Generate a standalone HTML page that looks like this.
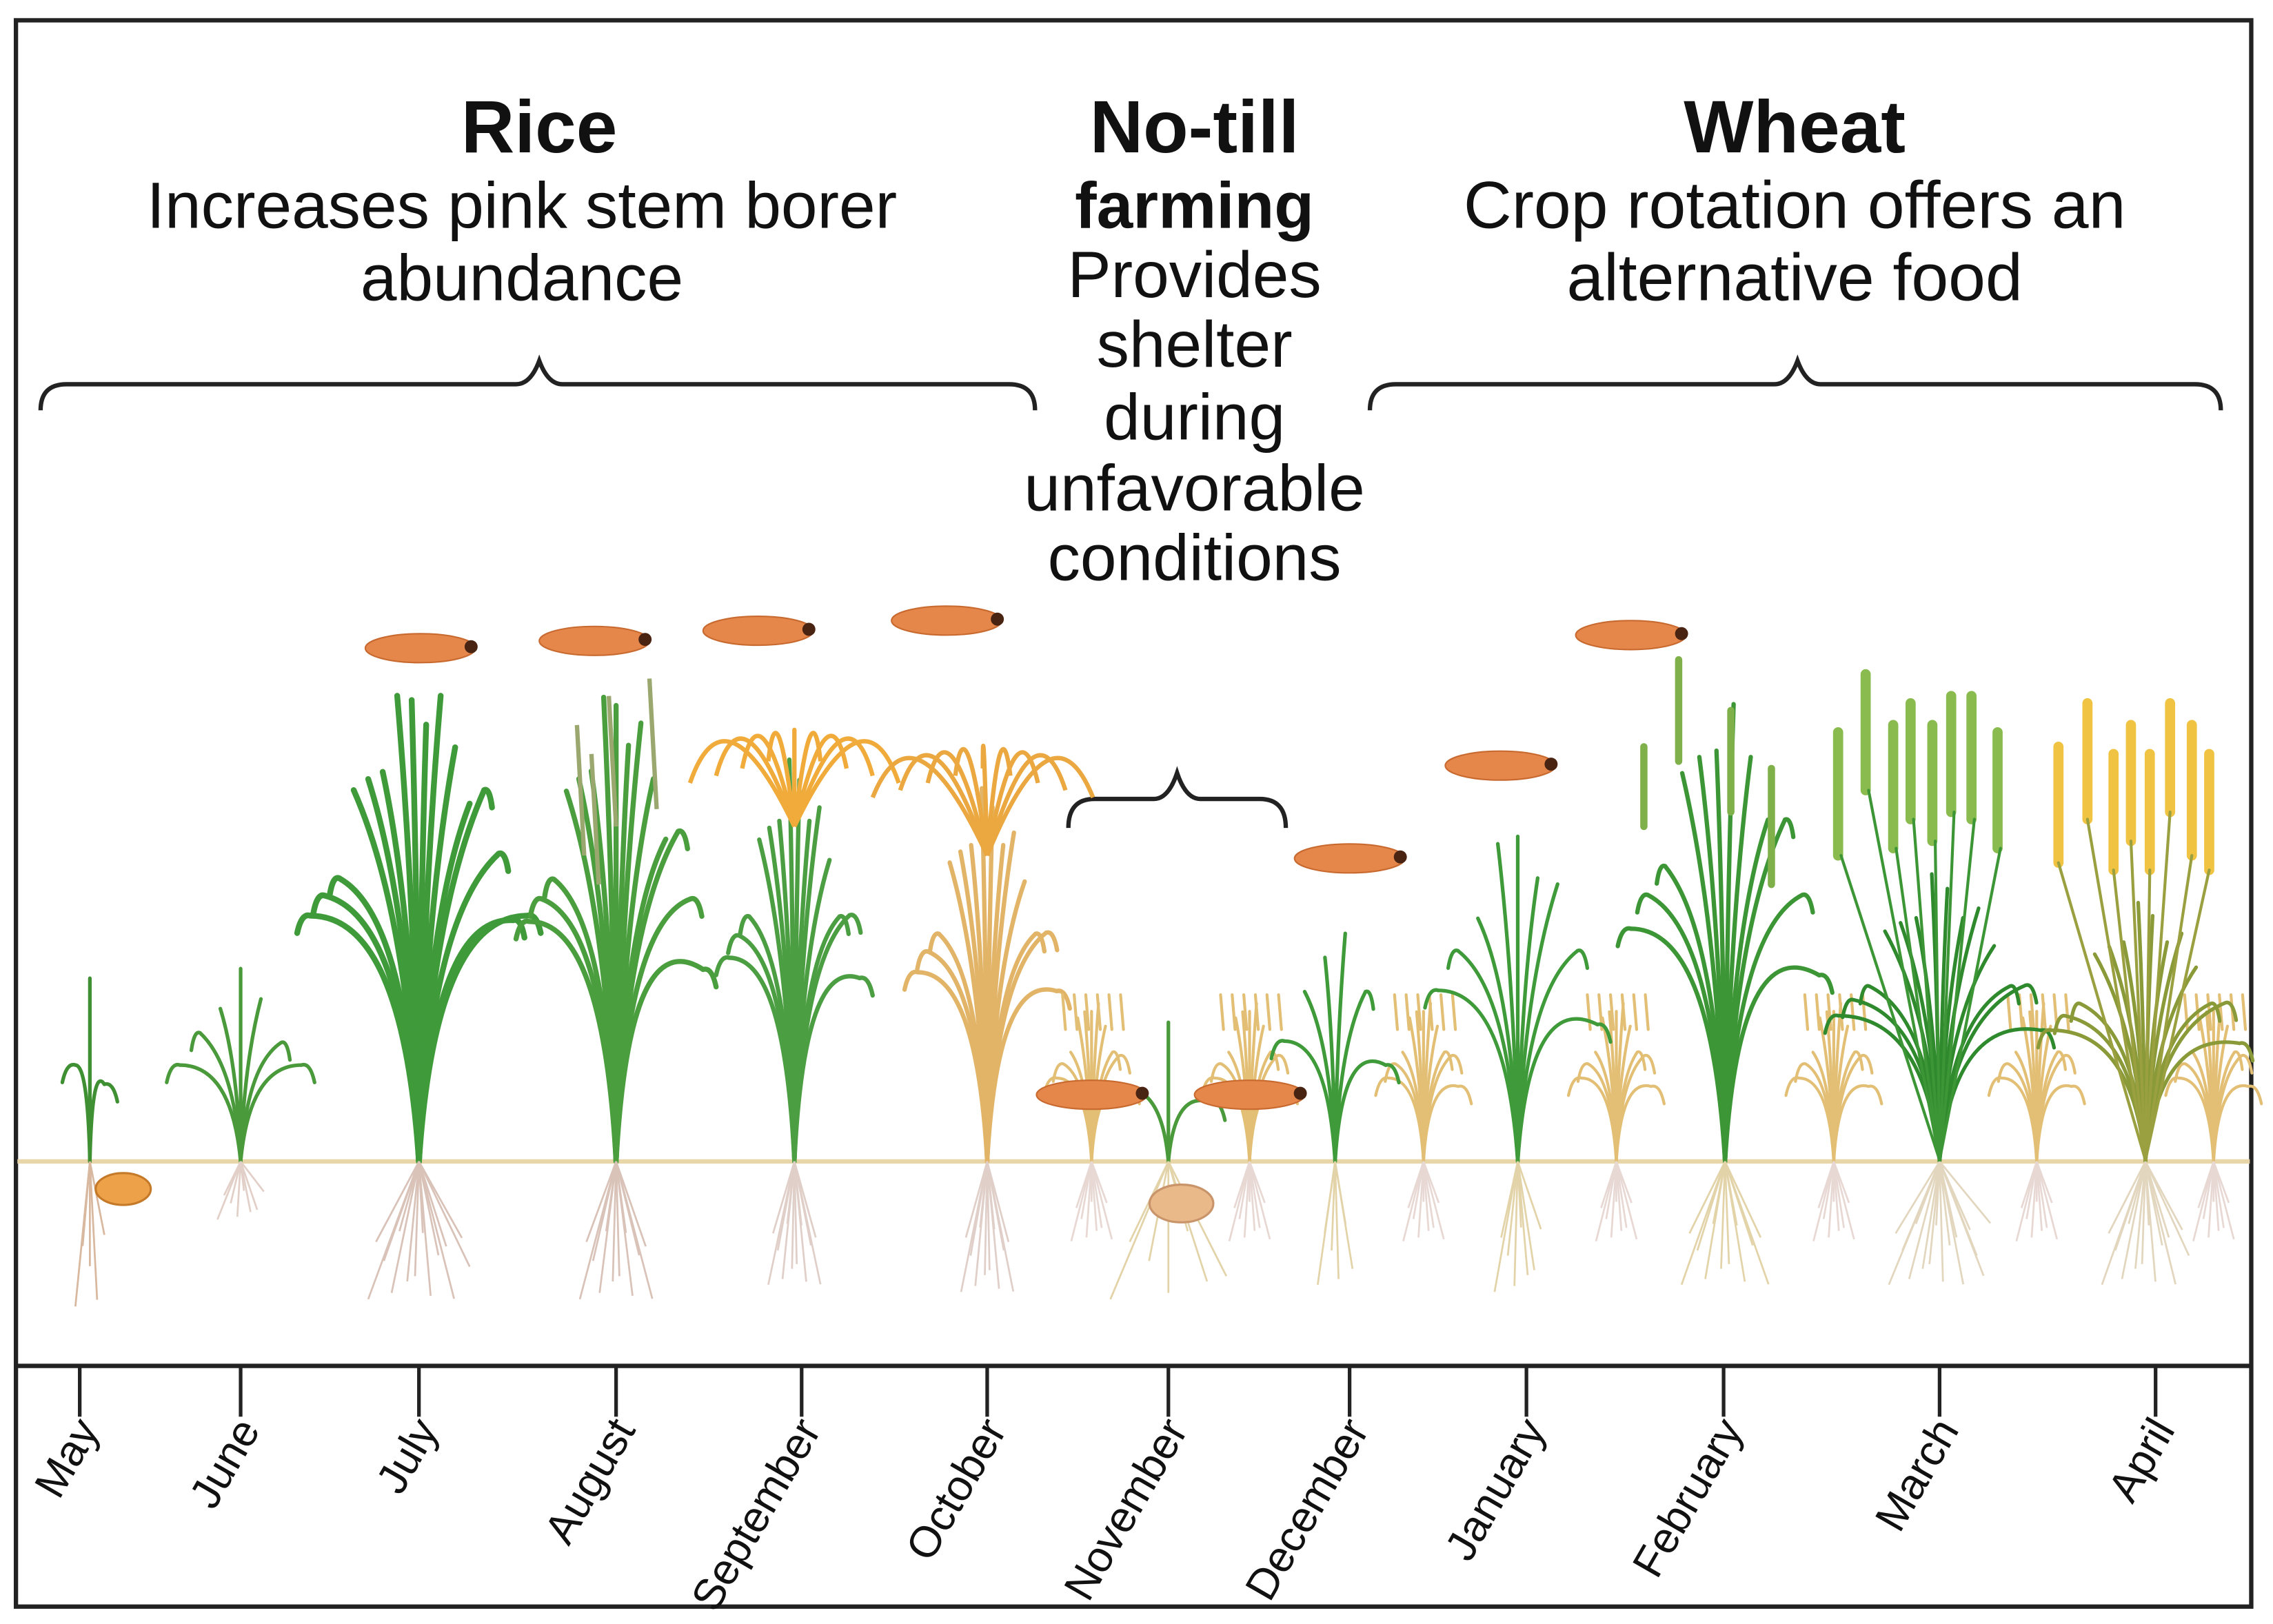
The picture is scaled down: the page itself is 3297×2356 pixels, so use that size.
<!DOCTYPE html>
<html><head><meta charset="utf-8"><style>
html,body{margin:0;padding:0;background:#fff}
svg{display:block}
text{font-family:"Liberation Sans",sans-serif;fill:#111}
</style></head><body>
<svg id="fig" width="3297" height="2356" viewBox="0 0 1568 1120" preserveAspectRatio="none" xmlns="http://www.w3.org/2000/svg">
<rect x="11" y="14" width="1542" height="1094" fill="#fff" stroke="#222" stroke-width="3"/>
<line x1="11" y1="942" x2="1553" y2="942" stroke="#222" stroke-width="3"/>
<line x1="12" y1="801" x2="1552" y2="801" stroke="#e8d5a8" stroke-width="3"/>
<g text-anchor="middle">
<text x="372" y="105" font-size="51" font-weight="bold">Rice</text>
<text x="360" y="157" font-size="45">Increases pink stem borer</text>
<text x="360" y="207" font-size="45">abundance</text>
</g>
<g text-anchor="middle">
<text x="824" y="105" font-size="51" font-weight="bold">No-till</text>
<text x="824" y="157" font-size="45" font-weight="bold">farming</text>
<text x="824" y="205" font-size="45">Provides</text>
<text x="824" y="253" font-size="45">shelter</text>
<text x="824" y="303" font-size="45">during</text>
<text x="824" y="352" font-size="45">unfavorable</text>
<text x="824" y="400" font-size="45">conditions</text>
</g>
<g text-anchor="middle">
<text x="1238" y="105" font-size="51" font-weight="bold">Wheat</text>
<text x="1238" y="157" font-size="46">Crop rotation offers an</text>
<text x="1238" y="207" font-size="46">alternative food</text>
</g>
<g id="braces" fill="none" stroke="#222" stroke-width="3"></g>
<g id="plants"></g>
<g id="larvae"></g>
<g id="ticks"></g>
</svg>
<script>
const NS="http://www.w3.org/2000/svg";
const months=["May","June","July","August","September","October","November","December","January","February","March","April"];
const monthX=[55,166,289,425,553,681,806,931,1053,1189,1338,1487];
const groundY=801;
function mk(tag,attrs,parent){const e=document.createElementNS(NS,tag);for(const k in attrs)e.setAttribute(k,attrs[k]);parent.appendChild(e);return e;}
const tg=document.getElementById('ticks');
months.forEach((m,i)=>{
 const x=monthX[i];
 const l=mk('line',{x1:x,y1:942,x2:x,y2:977,stroke:'#222','stroke-width':2.5},tg);
 
 
 const t=mk('text',{x:0,y:0,'font-size':30,'text-anchor':'end',transform:`translate(${x+14},${986}) rotate(-60)`},tg);
 t.textContent=m;
 
 
});
const bg=document.getElementById('braces');
function brace(x1,x2,px,y,h,name){
 const d=`M${x1},${y+h} Q${x1},${y} ${x1+18},${y} L${px-16},${y} Q${px-6},${y} ${px},${y-h*0.9} Q${px+6},${y} ${px+16},${y} L${x2-18},${y} Q${x2},${y} ${x2},${y+h}`;
 const p=mk('path',{d:d},bg);
 
 
}
brace(28,714,372,265,18,'rice-brace');
brace(945,1532,1240,265,18,'wheat-brace');
brace(737,887,812,551,20,'notill-brace');
const pg=document.getElementById('plants');
function roots(x,depth,spread,color,n){
 const g=mk('g',{fill:'none',stroke:color,'stroke-width':1.3},pg);
 
 
 for(let i=0;i<n;i++){const t=n>1?i/(n-1)-0.5:0;const dx=t*spread*2;const dd=depth*(0.75+0.25*Math.cos(i*2.3));
  mk('path',{d:`M${x},${groundY} Q${x+dx*0.4},${groundY+dd*0.4} ${x+dx},${groundY+dd}`},g);}
}
function plant(x,top,spread,color,n,w,name){
 const g=mk('g',{fill:'none',stroke:color,'stroke-width':w,'stroke-linecap':'round'},pg);
 
 
 const h=groundY-top;
 for(let i=0;i<n;i++){
  const t=n>1?i/(n-1)-0.5:0;const a=Math.abs(t)*2;
  const tx=x+t*spread*2;const ty=top+Math.pow(a,1.4)*h*0.5+((i%3)*h*0.05);
  const cx=x+t*spread*0.3;const cy=groundY-h*0.5;
  mk('path',{d:`M${x},${groundY} Q${cx},${cy} ${tx},${ty}`},g);
  if(a>0.6){mk('path',{d:`M${tx},${ty} q${t*12},${-2} ${t*18},${12}`},g);}
 }
 return g;
}
function stubble(x,name){
 const g=plant(x,686,24,'#e2bf74',11,2,name);
 for(let i=0;i<6;i++){mk('line',{x1:x-20+i*8,y1:686,x2:x-18+i*8,y2:710,stroke:'#e2bf74','stroke-width':2},g);}
 roots(x,55,14,'#e8d8d4',9);
}
plant(62,668,10,'#3f8f33',3,2.5,'plant-may');roots(62,100,10,'#d9b8a0',5);
const seed=mk('ellipse',{cx:85,cy:820,rx:19,ry:11,fill:'#eda24a',stroke:'#c47a28','stroke-width':1.5},pg);

plant(166,668,42,'#4a9a3c',7,2.5,'plant-june');roots(166,40,16,'#e2d0c8',8);
plant(289,462,75,'#3f9a3a',16,4,'plant-july');roots(289,95,35,'#d9c2b8',14);
plant(425,470,60,'#4a9e3e',15,3.5,'plant-august');roots(425,95,25,'#d9c2b8',12);
const pan=mk('g',{stroke:'#9aa870','stroke-width':3,fill:'none'},pg);

[[398,500],[420,480],[448,468],[408,520]].forEach(p=>mk('path',{d:`M${p[0]+5},${p[1]+90} L${p[0]},${p[1]}`},pan));
plant(548,520,45,'#4c9e42',14,3,'plant-september');roots(548,85,18,'#e0cfc8',12);
const sp=mk('g',{stroke:'#f0ab3a','stroke-width':3,fill:'none'},pg);

for(let i=0;i<9;i++){const sx=500+i*12;const d=(i-4)*6;mk('path',{d:`M548,570 Q${sx},470 ${sx+d},${520+Math.abs(i-4)*5}`},sp);}
plant(681,540,48,'#e2b468',14,3,'plant-october');roots(681,90,18,'#e0cfc8',12);
const op=mk('g',{stroke:'#eba840','stroke-width':3,fill:'none'},pg);

for(let i=0;i<9;i++){const sx=630+i*12;const d=(i-4)*7;mk('path',{d:`M681,590 Q${sx},480 ${sx+d},${530+Math.abs(i-4)*5}`},op);}
[753,862,982,1115,1265,1405,1527].forEach((x,i)=>stubble(x,'rice-stubble-'+(i+1)));
plant(806,700,30,'#4a9a3c',3,2.5,'plant-november');roots(806,95,40,'#e3d3a8',7);
const ws=mk('ellipse',{cx:815,cy:830,rx:22,ry:13,fill:'#e9b98a',stroke:'#c9946a','stroke-width':1.5},pg);

plant(921,635,35,'#3f9a3a',6,2.5,'plant-december');roots(921,85,12,'#e3d3a8',6);
plant(1047,565,55,'#3f9a3a',9,2.5,'plant-january');roots(1047,90,16,'#e3d3a8',8);
plant(1190,480,65,'#3d9636',12,3,'plant-february');roots(1190,85,30,'#e3d3a8',12);
const fh=mk('g',{stroke:'#7fb04a','stroke-width':5,'stroke-linecap':'round'},pg);

[[1158,455,525],[1134,515,570],[1194,490,560],[1222,530,610]].forEach(p=>mk('line',{x1:p[0],y1:p[1],x2:p[0],y2:p[2]},fh));
plant(1338,600,70,'#2f8a2e',14,2.5,'plant-march');roots(1338,85,35,'#e2d6be',16);
const mh=mk('g',{stroke:'#8abb4e','stroke-width':7,'stroke-linecap':'round'},pg);

[[1268,505,590],[1287,465,545],[1306,500,585],[1318,485,565],[1333,500,580],[1346,480,560],[1360,480,565],[1378,505,585]].forEach(p=>{mk('line',{x1:p[0],y1:p[1],x2:p[0],y2:p[2]},mh);mk('line',{x1:p[0]+2,y1:p[2],x2:1338,y2:800,stroke:'#3d9636','stroke-width':2},mh);});
plant(1480,620,65,'#8a9a38',14,2.5,'plant-april');roots(1480,85,30,'#e2d6be',14);
const ah=mk('g',{stroke:'#f0c442','stroke-width':7,'stroke-linecap':'round'},pg);

[[1420,515,595],[1440,485,565],[1458,520,600],[1470,500,580],[1483,520,600],[1497,485,560],[1512,500,590],[1524,520,600]].forEach(p=>{mk('line',{x1:p[0],y1:p[1],x2:p[0],y2:p[2]},ah);mk('line',{x1:p[0],y1:p[2],x2:1480,y2:800,stroke:'#9aa040','stroke-width':2},ah);});
const lg=document.getElementById('larvae');
const larvaeX=[290,410,523,653,1125,1035,931,753,862];
const larvaeY=[447,442,435,428,438,528,592,755,755];
larvaeX.forEach((x,i)=>{
 const g=mk('g',{},lg);
 
 
 mk('ellipse',{cx:x,cy:larvaeY[i],rx:38,ry:10,fill:'#e5874a',stroke:'#c86a30','stroke-width':1},g);
 mk('circle',{cx:x+35,cy:larvaeY[i]-1,r:4.5,fill:'#4a2412'},g);
});
</script>
</body></html>
